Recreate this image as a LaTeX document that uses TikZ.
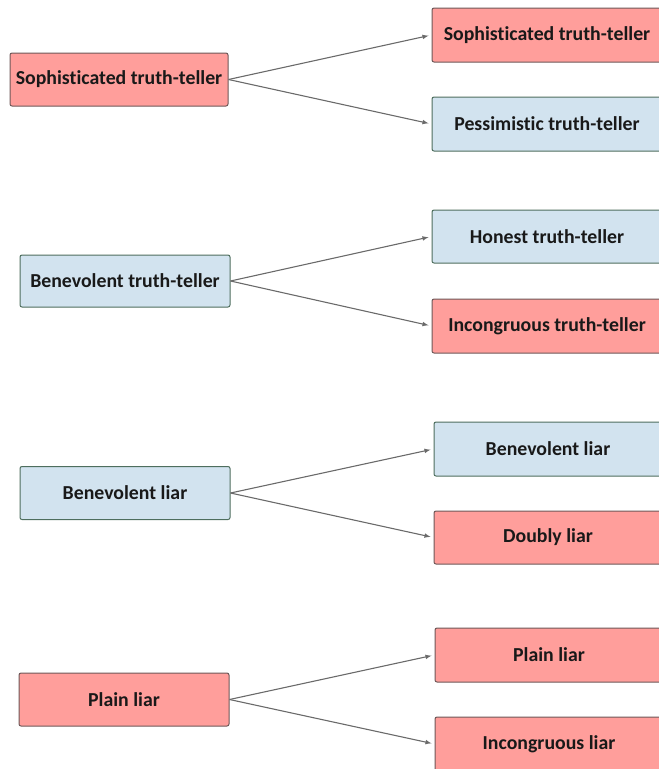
\documentclass[tikz,border=0pt]{standalone}
\usepackage{fontspec}
\setmainfont[Ligatures=NoCommon]{Carlito}
\usepackage{xcolor}
\usepackage{tikz}
\usetikzlibrary{arrows}
\definecolor{liarred}{HTML}{FF9E9B}
\definecolor{honestblue}{HTML}{D2E3EF}
\definecolor{redline}{HTML}{6E5858}
\definecolor{blueline}{HTML}{4E6E5E}
\definecolor{arrowgray}{HTML}{6A6A6A}
\begin{document}
\begin{tikzpicture}[x=1pt,y=-1pt,
	box/.style={rectangle,rounded corners=2pt,line width=1pt,inner sep=0pt,
		font=\fontsize{19.8}{23}\selectfont\bfseries,text=black!90},
	redbox/.style={box,fill=liarred,draw=redline},
	bluebox/.style={box,fill=honestblue,draw=blueline}]
		\useasboundingbox (0,0) rectangle (659,769);
		\clip (0,0) rectangle (659,769);
		\node[redbox,minimum width=218pt,minimum height=53pt] (A) at (119,79.5) {Sophisticated truth-teller};
		\node[redbox,minimum width=230pt,minimum height=54pt] (A') at (547,35) {Sophisticated truth-teller};
		\node[bluebox,minimum width=230pt,minimum height=54pt] (A'') at (547,124) {Pessimistic truth-teller};
		\node[bluebox,minimum width=210pt,minimum height=52pt] (B) at (125,281) {Benevolent\ truth-teller};
		\node[bluebox,minimum width=230pt,minimum height=53pt] (B') at (547,236.5) {Honest truth-teller};
		\node[redbox,minimum width=230pt,minimum height=54pt] (B'') at (547,326) {Incongruous truth-teller};
		\node[bluebox,minimum width=210pt,minimum height=53pt] (C) at (125,493) {Benevolent liar};
		\node[bluebox,minimum width=228pt,minimum height=54pt] (C') at (548,449) {Benevolent liar};
		\node[redbox,minimum width=228pt,minimum height=53pt] (C'') at (548,537.5) {Doubly liar};
		\node[redbox,minimum width=210pt,minimum height=53pt] (D) at (124,699.5) {Plain liar};
		\node[redbox,minimum width=228pt,minimum height=54pt] (D') at (549,655) {Plain liar};
		\node[redbox,minimum width=228pt,minimum height=54pt] (D'') at (549,744) {Incongruous liar};
		%
		\path[->,color=arrowgray,line width=1.1pt,>=latex,shorten >=3pt]
		(A.east) edge (A'.west)
		(A.east) edge (A''.west)
		(B.east) edge (B'.west)
		(B.east) edge (B''.west)
		(C.east) edge (C'.west)
		(C.east) edge (C''.west)
		(D.east) edge (D'.west)
		(D.east) edge (D''.west);
\end{tikzpicture}
\end{document}
